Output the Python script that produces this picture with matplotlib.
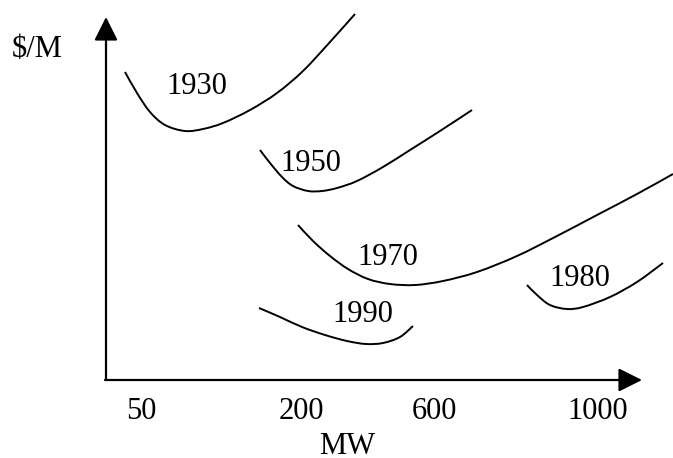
import numpy as np
import matplotlib
matplotlib.use("Agg")
import matplotlib.pyplot as plt
from matplotlib.path import Path
from matplotlib.patches import PathPatch, ArrowStyle

plt.rcParams['font.family'] = ['Liberation Serif', 'DejaVu Serif']

# ---- data (schematic units: origin at the axes corner) ----
curve_names = ['1930', '1950', '1970', '1980', '1990']

c1930_x = [19, 31, 44, 59, 79, 97, 117, 144, 171, 197, 224, 249]
c1930_y = [308, 287, 268, 255, 249, 251, 257, 270, 287, 309, 338, 366]

c1950_x = [154, 164, 176, 187, 202, 216, 231, 251, 277, 304, 334, 366]
c1950_y = [230, 217, 203, 194, 189, 189, 192, 199, 213, 230, 249, 270]

c1970_x = [192, 207, 224, 242, 262, 284, 309, 337, 371, 411, 451, 491, 531, 567]
c1970_y = [155, 139, 124, 111, 101, 96, 95, 99, 108, 124, 144, 165, 186, 206]

c1980_x = [421, 431, 444, 461, 477, 504, 531, 557]
c1980_y = [95, 85, 75, 71, 73, 83, 98, 117]

c1990_x = [153, 174, 196, 219, 241, 260, 277, 294, 307]
c1990_y = [72, 63, 53, 45, 39, 36, 37, 43, 54]

label_x = [91, 205, 282, 474, 257]
label_y = [286, 209, 115, 94, 58]

tick_labels = ['50', '200', '600', '1000']
tick_pos = [35, 195, 328, 492]

x_label = 'MW'
y_label = '$/M'

curves_x = [c1930_x, c1950_x, c1970_x, c1980_x, c1990_x]
curves_y = [c1930_y, c1950_y, c1970_y, c1980_y, c1990_y]


def smooth_path(xs, ys):
    P = np.column_stack([xs, ys]).astype(float)
    n = len(P)
    verts = [P[0]]
    codes = [Path.MOVETO]
    for i in range(n - 1):
        p0 = P[i - 1] if i > 0 else P[i]
        p1 = P[i]
        p2 = P[i + 1]
        p3 = P[i + 2] if i + 2 < n else P[i + 1]
        c1 = p1 + (p2 - p0) / 6.0
        c2 = p2 - (p3 - p1) / 6.0
        verts += [c1, c2, p2]
        codes += [Path.CURVE4] * 3
    return Path(verts, codes)


fig = plt.figure(figsize=(6.73, 4.58), dpi=100)
ax = fig.add_axes([0, 0, 1, 1])
ax.set_xlim(-106, 567)
ax.set_ylim(-78, 380)
ax.axis('off')

for xs, ys in zip(curves_x, curves_y):
    ax.add_patch(PathPatch(smooth_path(xs, ys), fill=False, lw=1.4,
                           edgecolor='black', capstyle='butt'))

fs = 22
for name, lx, ly in zip(curve_names, label_x, label_y):
    ax.text(lx, ly, name, ha='center', va='baseline', fontsize=fs)

# axes with arrows
style = ArrowStyle('-|>', head_length=0.4, head_width=0.2)
ax.annotate('', xy=(0, 363), xytext=(0, 0),
            arrowprops=dict(arrowstyle=style, mutation_scale=36, lw=1.6,
                            color='black', shrinkA=0, shrinkB=0))
ax.annotate('', xy=(536, 0), xytext=(-1, 0),
            arrowprops=dict(arrowstyle=style, mutation_scale=36, lw=1.6,
                            color='black', shrinkA=0, shrinkB=0))

for t, p in zip(tick_labels, tick_pos):
    ax.text(p, -39, t, ha='center', va='baseline', fontsize=fs)

ax.text(241, -74, x_label, ha='center', va='baseline', fontsize=fs)
ax.text(-94, 323, y_label, ha='left', va='baseline', fontsize=fs)

fig.savefig('out.png', dpi=100)
